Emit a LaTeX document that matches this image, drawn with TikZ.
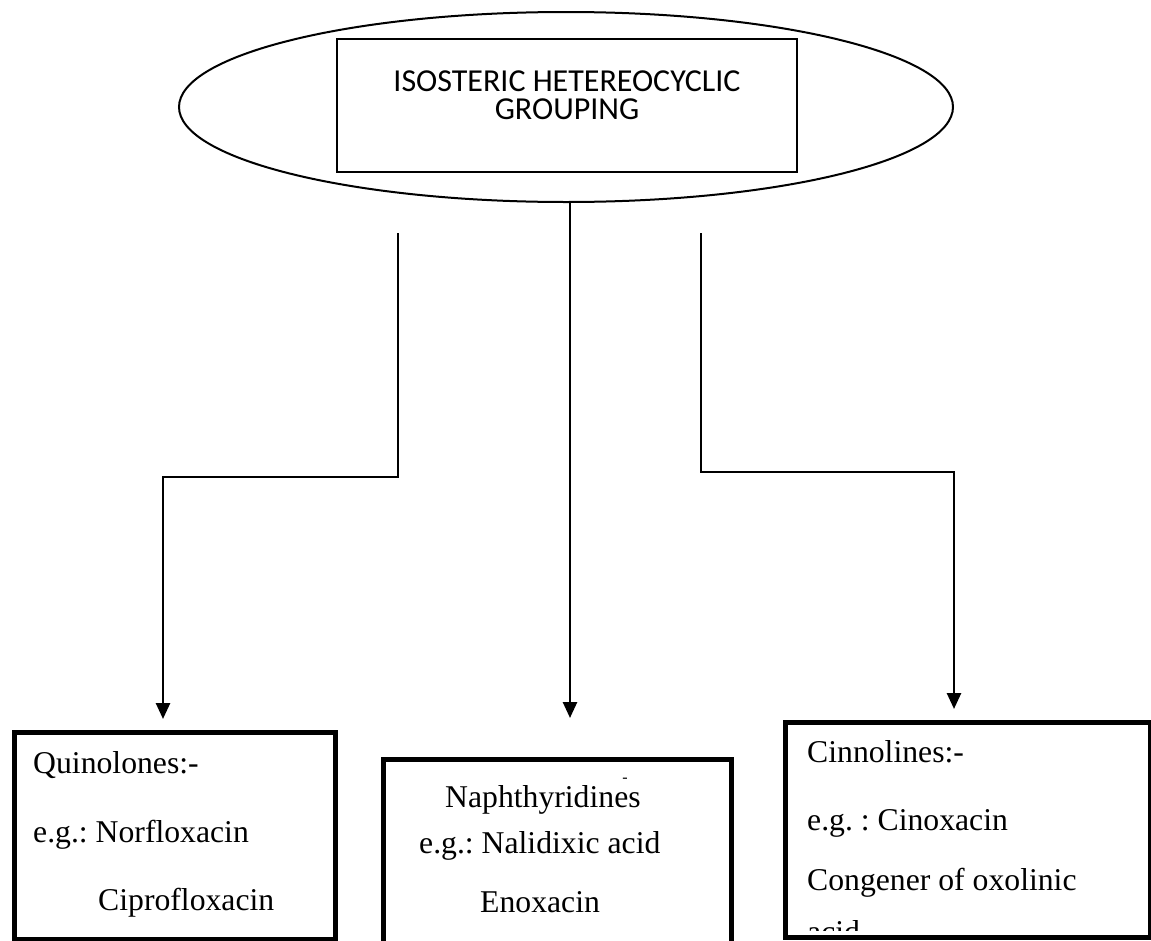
\documentclass[tikz,border=0pt]{standalone}
\usepackage{fontspec}
\setmainfont{Liberation Serif}
\newfontfamily\calibri{Carlito}
\usetikzlibrary{shapes.geometric,arrows.meta}
\frenchspacing

\begin{document}
\begin{tikzpicture}[x=1pt,y=-1pt,
        groupnode/.style={ellipse, draw=black, line width=2pt, minimum width=774pt, minimum height=190pt, inner sep=0pt},
        titlenode/.style={rectangle, draw=black, line width=2pt, minimum width=460pt, minimum height=133pt, inner sep=0pt},
        titletext/.style={anchor=base, inner sep=0pt, font=\calibri\fontsize{32}{38}\selectfont},
        classbox/.style={rectangle, draw=black, line width=4.5pt, anchor=north west, inner sep=0pt},
        entry/.style={anchor=base west, inner sep=0pt, font=\fontsize{31.7}{38}\selectfont},
        link/.style={line width=2.6pt},
        arrowlink/.style={link, -{Triangle[width=14pt,length=16pt]}}]
        \useasboundingbox (0,0) rectangle (1151,940);
        % top grouping
        \node[groupnode] (group) at (566,107) {};
        \node[titlenode] (title) at (567,105.5) {};
        \node[titletext] (titleone) at (567,91) {ISOSTERIC HETEREOCYCLIC};
        \node[titletext] (titletwo) at (567,119) {GROUPING};
        % class boxes
        \node[classbox, minimum width=321pt, minimum height=207pt] (quinbox) at (12,730) {};
        \node[classbox, minimum width=348pt, minimum height=220pt] (naphbox) at (381,757) {};
        \node[classbox, minimum width=365pt, minimum height=215pt] (cinnbox) at (783,720) {};
        % box texts
        \node[entry] (quinname) at (33,773) {Quinolones:-};
        \node[entry] (quinone) at (33,842) {e.g.: Norfloxacin};
        \node[entry] (quintwo) at (98,910) {Ciprofloxacin};
        \node[entry] (naphname) at (445,807) {Naphthyridines};
        \node[anchor=base, inner sep=0pt, font=\fontsize{16}{16}\selectfont] (naphdash) at (625,782) {-};
        \node[entry] (naphone) at (419,853) {e.g.: Nalidixic acid};
        \node[entry] (naphtwo) at (480,912) {Enoxacin};
        \node[entry] (cinnname) at (807,762) {Cinnolines:-};
        \node[entry] (cinnone) at (807,830) {e.g. : Cinoxacin};
        \node[entry] (cinntwo) at (807,890) {Congener of oxolinic};
        \begin{scope}
            \clip (783,720) rectangle (1148,930);
            \node[entry] (cinnthree) at (807,942) {acid};
        \end{scope}
        % connectors
        \coordinate (quinstart) at (398,233);
        \coordinate (quinbend) at (163,477);
        \coordinate (quintip) at (163,719);
        \coordinate (naphtip) at (570,718);
        \coordinate (cinnstart) at (701,233);
        \coordinate (cinnbend) at (954,472);
        \coordinate (cinntip) at (954,709);
        \draw[arrowlink] (quinstart) |- (quinbend) -- (quintip);
        \draw[arrowlink] (naphtip |- group.south) -- (naphtip);
        \draw[arrowlink] (cinnstart) |- (cinnbend) -- (cinntip);
\end{tikzpicture}
\end{document}
